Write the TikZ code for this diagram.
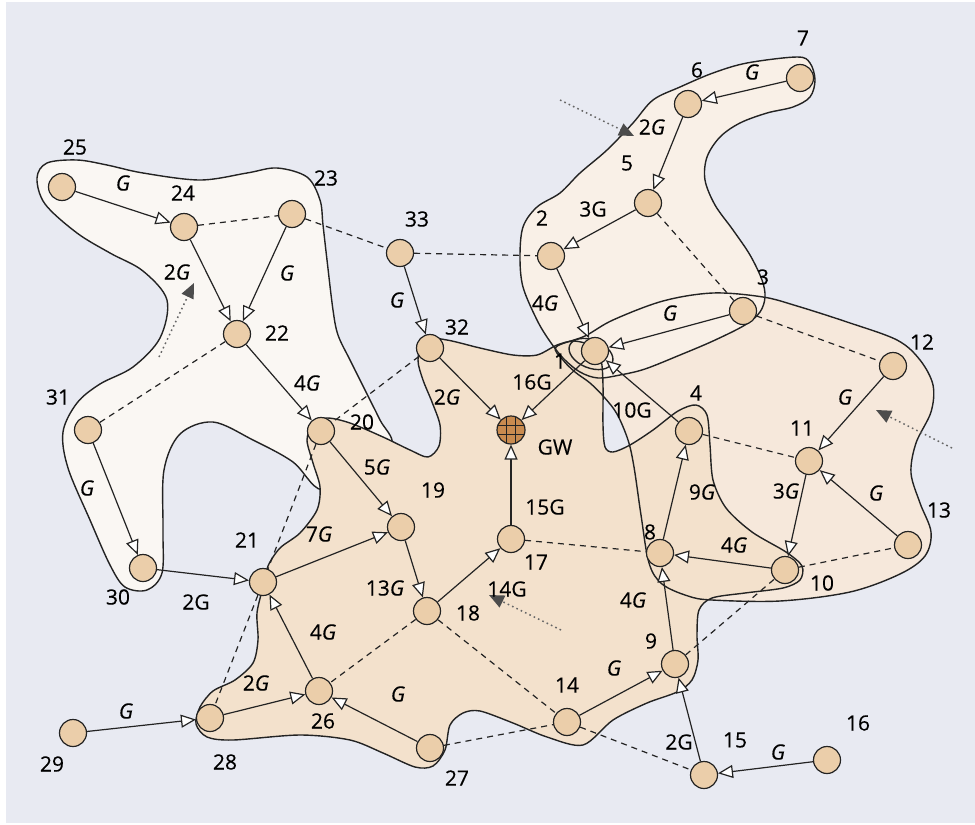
\documentclass[tikz,border=0pt]{standalone}
\usepackage{fontspec}
\setmainfont{Open Sans}[UprightFeatures={FakeBold=0.35},ItalicFeatures={FakeBold=0.35}]
\usetikzlibrary{arrows.meta}
\definecolor{bgc}{RGB}{232,234,242}
\definecolor{fillA}{RGB}{250,247,243}
\definecolor{fillB}{RGB}{249,240,231}
\definecolor{fillC}{RGB}{246,232,219}
\definecolor{fillD}{RGB}{243,225,204}
\definecolor{nodefill}{RGB}{235,206,170}
\definecolor{gwfill}{RGB}{201,139,79}
\definecolor{ink}{RGB}{35,35,35}
\newcommand\lblfont{\fontsize{10.5}{12}\selectfont}
\tikzset{
  arr/.style={draw=ink, line width=0.6pt, -{Triangle[length=7.5pt,width=6.5pt,fill=white]}},
  dsh/.style={draw=ink, line width=0.6pt, dash pattern=on 3pt off 2.5pt},
  dotarr/.style={draw=black!60, line width=0.75pt, dash pattern=on 0.8pt off 1.6pt, -{Triangle[length=7.5pt,width=6.5pt,color=black!70,fill=black!70]}},
  nd/.style={circle, draw=ink, line width=0.6pt, fill=nodefill, minimum size=13.5pt, inner sep=0pt},
  gw/.style={circle, draw=ink, line width=0.6pt, fill=gwfill, minimum size=14pt, inner sep=0pt,
    path picture={\draw[line width=0.55pt, ink]
      ([xshift=-2.3pt]path picture bounding box.north) -- ([xshift=-2.3pt]path picture bounding box.south)
      ([xshift=2.3pt]path picture bounding box.north) -- ([xshift=2.3pt]path picture bounding box.south)
      ([yshift=-2.3pt]path picture bounding box.east) -- ([yshift=-2.3pt]path picture bounding box.west)
      ([yshift=2.3pt]path picture bounding box.east) -- ([yshift=2.3pt]path picture bounding box.west);}},
  lbl/.style={font=\lblfont, inner sep=0pt, text=black},
  rgn/.style={draw=ink, line width=0.7pt},
}
\begin{document}
\begin{tikzpicture}[x=0.5pt,y=-0.5pt]
\useasboundingbox (0,0) rectangle (975,825);
\fill[white] (0,0) rectangle (975,825);
\fill[bgc] (6,2) rectangle (975,823);

% Region A (left)
\path[save path=\pA] plot[smooth cycle, tension=0.55] coordinates {
(47,163) (77,160) (107,165) (143,173) (200,180) (247,173) (277,168) (307,177) (320,200) (323,225) (327,260) (333,310) (338,335) (350,360) (365,390) (380,420) (392,445) (365,475) (322,490) (293,462) (253,440) (213,422) (180,434) (164,470) (163,530) (162,573) (147,590) (125,587) (110,565) (90,520) (68,468) (63,432) (77,403) (100,384) (133,367) (160,338) (167,300) (143,271) (110,253) (77,233) (45,204) (37,178)};
\path[use path=\pA, fill=fillA, rgn];

% Regions C, B, D fills
\path[save path=\pC] plot[smooth cycle, tension=0.55] coordinates {
(556,347) (585,336) (613,320) (663,301) (713,293) (763,297) (797,306) (847,322) (897,340) (920,360) (933,385) (931,412) (916,443) (911,473) (920,503) (931,532) (925,556) (900,574) (850,592) (780,601) (712,600) (688,596) (662,584) (649,563) (641,515) (634,467) (628,440) (617,414) (604,397) (590,383) (575,372) (563,360)};
\path[save path=\pB] plot[smooth cycle, tension=0.55] coordinates {
(653,100) (680,87) (713,73) (747,63) (797,57) (810,63) (815,80) (810,97) (793,107) (767,113) (740,123) (720,137) (707,157) (705,180) (715,205) (733,230) (750,255) (762,280) (765,297) (760,312) (745,325) (713,341) (680,355) (645,369) (620,375) (598,378) (580,372) (563,358) (549,340) (537,320) (523,287) (520,257) (523,227) (537,207) (560,193) (580,173) (607,150) (633,123)};
\path[save path=\pD] plot[smooth cycle, tension=0.5] coordinates {
(424,339) (447,340) (480,348) (513,355) (537,355) (557,345) (574,341) (592,346) (601,360) (603,385) (603,425) (605,447) (613,452) (630,445) (653,430) (678,411) (696,405) (707,415) (710,445) (713,480) (726,508) (752,532) (786,552) (802,566) (800,580) (783,588) (745,593) (712,598) (699,610) (697,635) (698,660) (692,680) (677,692) (647,703) (613,720) (583,745) (547,737) (513,723) (480,711) (463,713) (450,725) (445,750) (433,766) (415,767) (383,753) (350,740) (300,735) (233,740) (207,737) (196,724) (200,707) (213,691) (235,680) (253,663) (258,640) (257,613) (263,587) (268,566) (280,548) (300,533) (317,510) (320,487) (313,463) (307,440) (313,424) (327,418) (350,423) (383,437) (410,450) (428,457) (439,446) (440,425) (432,402) (423,380) (418,360)};
\path[use path=\pC, fill=fillC];
\path[use path=\pB, fill=fillB];
\path[use path=\pD, fill=fillD];
\path[use path=\pB, rgn];
\path[use path=\pC, rgn];
\path[use path=\pD, rgn];
\draw[rgn, rotate around={-22:(591,354)}] (591,354) ellipse [x radius=11.5pt, y radius=7pt];

% Nodes
\node[nd] (n7) at (800,78) {};
\node[nd] (n6) at (688,104) {};
\node[nd] (n5) at (648,203) {};
\node[nd] (n2) at (551,256) {};
\node[nd] (n3) at (743,311) {};
\node[nd] (n1) at (595,351) {};
\node[nd] (n12) at (893,366) {};
\node[nd] (n4) at (689,431) {};
\node[nd] (n11) at (809,461) {};
\node[nd] (n13) at (908,545) {};
\node[nd] (n10) at (785,570) {};
\node[nd] (n8) at (660,553) {};
\node[nd] (n17) at (511,539) {};
\node[gw] (GW) at (511,430) {};
\node[nd] (n32) at (430,348) {};
\node[nd] (n33) at (400,253) {};
\node[nd] (n25) at (62,187) {};
\node[nd] (n24) at (184,227) {};
\node[nd] (n23) at (292,214) {};
\node[nd] (n22) at (237,334) {};
\node[nd] (n31) at (88,430) {};
\node[nd] (n20) at (321,431) {};
\node[nd] (n30) at (143,568) {};
\node[nd] (n21) at (263,582) {};
\node[nd] (n19) at (401,527) {};
\node[nd] (n18) at (427,611) {};
\node[nd] (n26) at (319,691) {};
\node[nd] (n28) at (210,718) {};
\node[nd] (n29) at (73,733) {};
\node[nd] (n27) at (430,748) {};
\node[nd] (n14) at (567,722) {};
\node[nd] (n9) at (675,664) {};
\node[nd] (n15) at (704,775) {};
\node[nd] (n16) at (827,760) {};

% Dashed links
\draw[dsh] (n24) -- (n23);
\draw[dsh] (n23) -- (n33);
\draw[dsh] (n33) -- (n2);
\draw[dsh] (n5) -- (n3);
\draw[dsh] (n3) -- (n12);
\draw[dsh] (n22) -- (n31);
\draw[dsh] (n32) -- (n20);
\draw[dsh] (n20) -- (n21);
\draw[dsh] (n21) -- (n28);
\draw[dsh] (n18) -- (n26);
\draw[dsh] (n18) -- (n14);
\draw[dsh] (n14) -- (n15);
\draw[dsh] (n27) -- (n14);
\draw[dsh] (n17) -- (n8);
\draw[dsh] (n4) -- (n11);
\draw[dsh] (n10) -- (n13);
\draw[dsh] (n9) -- (n10);

% Directed links
\draw[arr] (n7) -- (n6);
\draw[arr] (n6) -- (n5);
\draw[arr] (n5) -- (n2);
\draw[arr] (n2) -- (n1);
\draw[arr] (n3) -- (n1);
\draw[arr] (n4) -- (n1);
\draw[arr] (n1) -- (GW);
\draw[arr] (n32) -- (GW);
\draw[arr] (n17) -- (GW);
\draw[arr] (n33) -- (n32);
\draw[arr] (n25) -- (n24);
\draw[arr] (n24) -- (n22);
\draw[arr] (n23) -- (n22);
\draw[arr] (n22) -- (n20);
\draw[arr] (n31) -- (n30);
\draw[arr] (n30) -- (n21);
\draw[arr] (n20) -- (n19);
\draw[arr] (n21) -- (n19);
\draw[arr] (n19) -- (n18);
\draw[arr] (n18) -- (n17);
\draw[arr] (n26) -- (n21);
\draw[arr] (n28) -- (n26);
\draw[arr] (n27) -- (n26);
\draw[arr] (n29) -- (n28);
\draw[arr] (n12) -- (n11);
\draw[arr] (n13) -- (n11);
\draw[arr] (n11) -- (n10);
\draw[arr] (n10) -- (n8);
\draw[arr] (n8) -- (n4);
\draw[arr] (n9) -- (n8);
\draw[arr] (n14) -- (n9);
\draw[arr] (n15) -- (n9);
\draw[arr] (n16) -- (n15);

% Dotted arrows
\coordinate (d1a) at (560,100); \coordinate (d1b) at (634,136);
\coordinate (d2a) at (952,448); \coordinate (d2b) at (876,410);
\coordinate (d3a) at (561,630); \coordinate (d3b) at (489,595);
\coordinate (d4a) at (159,357); \coordinate (d4b) at (194,283);
\draw[dotarr] (d1a) -- (d1b);
\draw[dotarr] (d2a) -- (d2b);
\draw[dotarr] (d3a) -- (d3b);
\draw[dotarr] (d4a) -- (d4b);

% Node labels
\node[lbl] (l7) at (803,38) {7};
\node[lbl] (l6) at (697,70) {6};
\node[lbl] (l5) at (627,163) {5};
\node[lbl] (l2) at (542,218) {2};
\node[lbl] (l3) at (763,277) {3};
\node[lbl] (l1) at (560,361) {1};
\node[lbl] (l12) at (922,342) {12};
\node[lbl] (l4) at (696,393) {4};
\node[lbl] (l11) at (802,428) {11};
\node[lbl] (l13) at (939,510) {13};
\node[lbl] (l10) at (822,583) {10};
\node[lbl] (l8) at (650,532) {8};
\node[lbl] (l17) at (536,562) {17};
\node[lbl] (lGW) at (555,447) {GW};
\node[lbl] (l32) at (457,327) {32};
\node[lbl] (l33) at (417,219) {33};
\node[lbl] (l25) at (75,147) {25};
\node[lbl] (l24) at (183,193) {24};
\node[lbl] (l23) at (326,178) {23};
\node[lbl] (l22) at (277,333) {22};
\node[lbl] (l31) at (58,397) {31};
\node[lbl] (l20) at (362,422) {20};
\node[lbl] (l19) at (433,490) {19};
\node[lbl] (l21) at (247,540) {21};
\node[lbl] (l30) at (118,597) {30};
\node[lbl] (l18) at (468,613) {18};
\node[lbl] (l26) at (323,721) {26};
\node[lbl] (l28) at (225,762) {28};
\node[lbl] (l29) at (52,764) {29};
\node[lbl] (l27) at (457,778) {27};
\node[lbl] (l14) at (567,685) {14};
\node[lbl] (l9) at (651,641) {9};
\node[lbl] (l15) at (735,740) {15};
\node[lbl] (l16) at (858,723) {16};

% Link labels
\node[lbl] (e76) at (752,72) {\textit{G}};
\node[lbl] (e65) at (652,127) {2\textit{G}};
\node[lbl] (e52) at (593,209) {3G};
\node[lbl] (e21) at (545,303) {4\textit{G}};
\node[lbl] (e31) at (670,313) {\textit{G}};
\node[lbl] (e1211) at (845,397) {\textit{G}};
\node[lbl] (e41) at (632,410) {10G};
\node[lbl] (e1gw) at (532,382) {16G};
\node[lbl] (e32gw) at (447,397) {2\textit{G}};
\node[lbl] (e3332) at (397,300) {\textit{G}};
\node[lbl] (e2524) at (123,183) {\textit{G}};
\node[lbl] (e2422) at (177,272) {2\textit{G}};
\node[lbl] (e2322) at (287,273) {\textit{G}};
\node[lbl] (e2220) at (307,383) {4\textit{G}};
\node[lbl] (e3130) at (87,488) {\textit{G}};
\node[lbl] (e3021) at (196,602) {2G};
\node[lbl] (e2019) at (377,467) {5\textit{G}};
\node[lbl] (e2119) at (319,534) {7\textit{G}};
\node[lbl] (e1918) at (385,588) {13\textit{G}};
\node[lbl] (e2621) at (323,632) {4\textit{G}};
\node[lbl] (e2826) at (256,683) {2\textit{G}};
\node[lbl] (e2726) at (398,694) {\textit{G}};
\node[lbl] (e2928) at (126,711) {\textit{G}};
\node[lbl] (e1817) at (507,589) {14G};
\node[lbl] (e17gw) at (545,507) {15G};
\node[lbl] (e1110) at (786,491) {3\textit{G}};
\node[lbl] (e1311) at (876,493) {\textit{G}};
\node[lbl] (e84) at (702,492) {9\textit{G}};
\node[lbl] (e108) at (734,545) {4\textit{G}};
\node[lbl] (e98) at (633,600) {4\textit{G}};
\node[lbl] (e149) at (614,668) {\textit{G}};
\node[lbl] (e159) at (679,742) {2G};
\node[lbl] (e1615) at (778,752) {\textit{G}};
\end{tikzpicture}
\end{document}
